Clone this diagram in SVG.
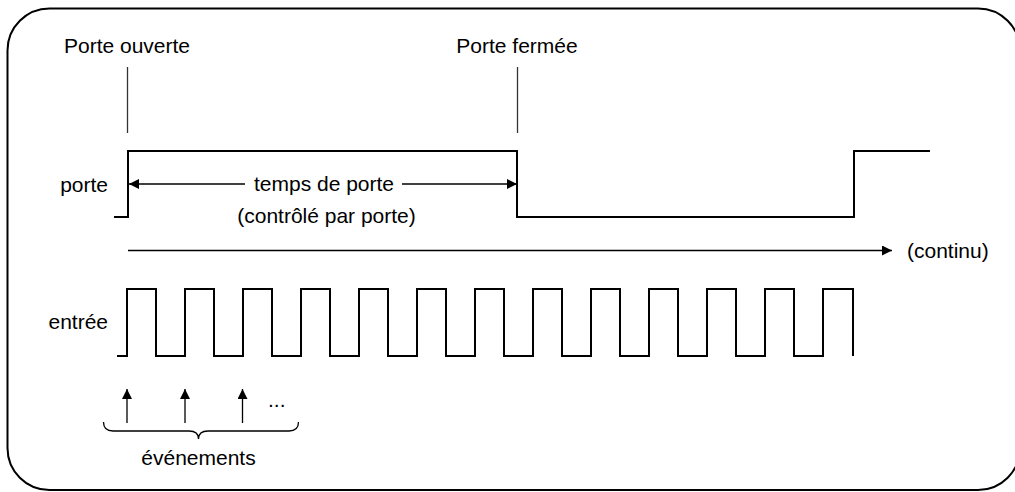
<svg xmlns="http://www.w3.org/2000/svg" width="1015" height="492" viewBox="0 0 1015 492">
  <style>
    text { font-family: "Liberation Sans", Arial, sans-serif; font-size: 21px; fill: #000; }
    .mid { text-anchor: middle; }
    .end { text-anchor: end; }
    .frame { fill: #fff; stroke: #000; stroke-width: 2; }
    .signal { fill: none; stroke: #000; stroke-width: 2; }
    .mark { fill: none; stroke: #333; stroke-width: 1.3; }
    .arrow { fill: none; stroke: #000; stroke-width: 1.3; }
    .brace { fill: none; stroke: #000; stroke-width: 1.3; }
  </style>
  <defs>
    <marker id="head" viewBox="0 0 10 10" refX="10" refY="5" markerUnits="userSpaceOnUse" markerWidth="11" markerHeight="10" orient="auto">
      <path d="M0,0 L10,5 L0,10 z" fill="#000"/>
    </marker>
  </defs>

  <rect id="frame" class="frame" x="7.5" y="8.5" width="1012.5" height="481.5" rx="42" ry="42"/>

  <g id="label-porte-ouverte">
    <text class="mid" x="127" y="53">Porte ouverte</text>
    <line class="mark" x1="127.5" y1="67" x2="127.5" y2="133"/>
  </g>
  <g id="label-porte-fermee">
    <text class="mid" x="517" y="53">Porte fermée</text>
    <line class="mark" x1="517.5" y1="67" x2="517.5" y2="133"/>
  </g>

  <g id="signal-porte">
    <text class="end" x="108" y="192">porte</text>
    <path class="signal" d="M114,217 H128 V151 H517 V217 H854 V151 H930"/>
  </g>

  <g id="label-temps">
    <text class="mid" x="324" y="191">temps de porte</text>
    <text class="mid" x="326.5" y="223">(contrôlé par porte)</text>
  </g>

  <g id="signal-entree">
    <text class="end" x="108" y="329">entrée</text>
    <path class="signal" d="M117,356 H127 V289 H156 V356 H185 V289 H214 V356 H243 V289 H272 V356 H301 V289 H330 V356 H359 V289 H388 V356 H417 V289 H446 V356 H475 V289 H504 V356 H533 V289 H562 V356 H591 V289 H620 V356 H649 V289 H678 V356 H707 V289 H736 V356 H765 V289 H794 V356 H823 V289 H853 V356"/>
  </g>

  <g id="label-continu">
    <text x="907" y="258">(continu)</text>
  </g>

  <g id="evenements">
    <text x="268" y="407">...</text>
    <path class="brace" d="M103.5,422 Q103.5,431 113,431 L189,431 Q198.5,431 198.5,439 Q198.5,431 208,431 L289,431 Q298.5,431 298.5,422"/>
    <text class="mid" x="198.5" y="465">événements</text>
  </g>

  <g id="connectors">
    <line class="arrow" x1="245" y1="184" x2="129" y2="184" marker-end="url(#head)"/>
    <line class="arrow" x1="402" y1="184" x2="517" y2="184" marker-end="url(#head)"/>
    <line class="arrow" x1="128" y1="250.5" x2="892" y2="250.5" marker-end="url(#head)"/>
    <line class="arrow" x1="127" y1="423" x2="127" y2="389" marker-end="url(#head)"/>
    <line class="arrow" x1="185" y1="423" x2="185" y2="389" marker-end="url(#head)"/>
    <line class="arrow" x1="242.5" y1="423" x2="242.5" y2="389" marker-end="url(#head)"/>
  </g>
</svg>
